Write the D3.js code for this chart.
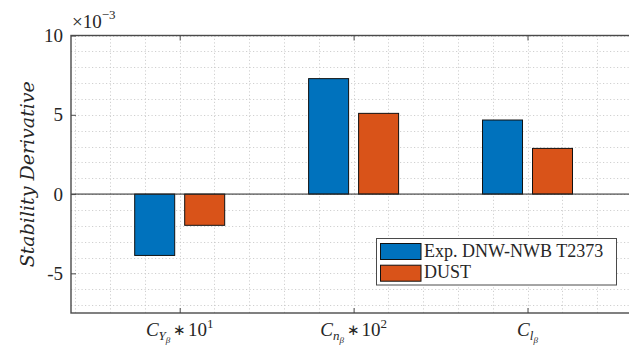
<!DOCTYPE html>
<html>
<head>
<meta charset="utf-8">
<script src="https://cdn.jsdelivr.net/npm/d3@7"></script>
<style>
  html, body { margin: 0; padding: 0; background: #fff; }
  svg { display: block; }
</style>
</head>
<body>
<svg id="chart" width="629" height="345"></svg>
<script>
// Stability derivatives (values in units of 1e-3)
const categories = [1, 2, 3];
const labelSub = ["Y", "n", "l"];
const labelFactor = ["10", "10", ""];
const labelPower = ["1", "2", ""];
const seriesNames = ["Exp. DNW-NWB T2373", "DUST"];
const expValues = [-3.87, 7.28, 4.67];
const dustValues = [-1.97, 5.09, 2.88];
const yTicks = [-5, 0, 5, 10];
const yTickLabels = ["-5", "0", "5", "10"];
const colors = ["#0072BD", "#D95319"];

const serif = "'Liberation Serif', 'Times New Roman', serif";
const serifWide = "'DejaVu Serif', serif";
const textColor = "#262626";

const svg = d3.select("#chart");
const axisColor = "#262626";

const x = d3.scaleLinear().domain([0.375, 3.625]).range([71, 636.2]);
const y = d3.scaleLinear().domain([-7.5, 10]).range([313, 35.5]);

// offsets of the two bars within a group, in category units
const sub = d3.scaleBand().domain([0, 1]).range([-0.2875, 0.2875])
  .paddingInner(0.2).paddingOuter(0.1);

const x0 = x.domain()[0], x1 = x.domain()[1];
const y0 = y.domain()[0], y1 = y.domain()[1];

// grid
const grid = svg.append("g").attr("stroke", "#c4c4c4").attr("stroke-width", 0.8)
  .attr("stroke-dasharray", "1.2,2.3");
const vGrid = d3.range(0.4, 3.61, 0.2);
grid.selectAll("line.v").data(vGrid).join("line")
  .attr("x1", d => Math.round(x(d)) + 0.5).attr("x2", d => Math.round(x(d)) + 0.5)
  .attr("y1", y(y0)).attr("y2", y(y1));
const hGrid = d3.range(-7, 10.01, 1);
grid.selectAll("line.h").data(hGrid).join("line")
  .attr("y1", d => Math.round(y(d)) + 0.5).attr("y2", d => Math.round(y(d)) + 0.5)
  .attr("x1", x(x0)).attr("x2", x(x1));

// bars
const series = [expValues, dustValues];
series.forEach((vals, si) => {
  svg.append("g").selectAll("rect").data(categories).join("rect")
    .attr("x", (c) => x(c + sub(si)))
    .attr("width", x(x0 + sub.bandwidth()) - x(x0))
    .attr("y", (c, i) => y(Math.max(0, vals[i])))
    .attr("height", (c, i) => Math.abs(y(vals[i]) - y(0)))
    .attr("fill", colors[si])
    .attr("stroke", "#111")
    .attr("stroke-width", 1);
});

// zero baseline
svg.append("line")
  .attr("x1", x(x0)).attr("x2", x(x1))
  .attr("y1", y(0)).attr("y2", y(0))
  .attr("stroke", axisColor).attr("stroke-width", 1);

// axes box
svg.append("rect")
  .attr("x", x(x0)).attr("y", y(y1))
  .attr("width", x(x1) - x(x0)).attr("height", y(y0) - y(y1))
  .attr("fill", "none").attr("stroke", "#4a4a4a").attr("stroke-width", 1.4);

// inward ticks (y left, x bottom and top)
const tickLen = 5;
const yAxis = d3.axisRight(y).tickValues(yTicks).tickSize(tickLen).tickFormat("");
svg.append("g").attr("transform", `translate(${x(x0)},0)`).call(yAxis)
  .call(g => g.select(".domain").remove())
  .call(g => g.selectAll("line").attr("stroke", "#4a4a4a"));
const xAxisB = d3.axisTop(x).tickValues(categories).tickSize(tickLen).tickFormat("");
svg.append("g").attr("transform", `translate(0,${y(y0)})`).call(xAxisB)
  .call(g => g.select(".domain").remove())
  .call(g => g.selectAll("line").attr("stroke", "#4a4a4a"));
const xAxisT = d3.axisBottom(x).tickValues(categories).tickSize(tickLen).tickFormat("");
svg.append("g").attr("transform", `translate(0,${y(y1)})`).call(xAxisT)
  .call(g => g.select(".domain").remove())
  .call(g => g.selectAll("line").attr("stroke", "#4a4a4a"));

// y tick labels
svg.append("g").selectAll("text").data(yTicks).join("text")
  .attr("x", x(x0) - 8).attr("y", d => y(d))
  .attr("dy", "0.34em").attr("text-anchor", "end")
  .attr("font-family", serif).attr("fill", textColor)
  .attr("font-size", 19)
  .text((d, i) => yTickLabels[i]);

// exponent
const ex = svg.append("text").attr("x", 72).attr("y", 28).attr("font-size", 19)
  .attr("font-family", serif).attr("fill", textColor);
ex.append("tspan").text("\u00d710");
ex.append("tspan").attr("font-size", 13).attr("dy", -9).text("\u22123");

// y axis label
svg.append("text")
  .attr("transform", `translate(34,${(y(y0) + y(y1)) / 2}) rotate(-90)`)
  .attr("text-anchor", "middle")
  .attr("font-family", serifWide).attr("fill", textColor)
  .attr("font-size", 19).attr("font-style", "italic")
  .text("Stability Derivative");

// x tick labels: C_{X_β} * 10^k
categories.forEach((c, i) => {
  const t = svg.append("text").attr("y", 336).attr("font-size", 19)
    .attr("font-family", serif).attr("fill", textColor)
    .attr("x", x(c)).attr("text-anchor", "middle");
  t.append("tspan").attr("font-style", "italic").text("C");
  t.append("tspan").attr("font-style", "italic").attr("font-size", 13).attr("dy", 4).text(labelSub[i]);
  t.append("tspan").attr("font-style", "italic").attr("font-size", 9).attr("dy", 3).text("\u03b2");
  if (labelFactor[i]) {
    t.append("tspan").attr("font-size", 15).attr("dy", -8).text("\u2009\u2217");
    t.append("tspan").attr("dy", 1).text("\u200a10");
    t.append("tspan").attr("font-size", 13).attr("dy", -8).text(labelPower[i]);
  }
});

// legend
const lg = svg.append("g");
lg.append("rect").attr("x", 376.5).attr("y", 238.5).attr("width", 240).attr("height", 46.5)
  .attr("fill", "#fff").attr("stroke", "#4a4a4a").attr("stroke-width", 1);
seriesNames.forEach((name, i) => {
  const ry = 243.5 + i * 21.7;
  lg.append("rect").attr("x", 380.5).attr("y", ry).attr("width", 40.5).attr("height", 16)
    .attr("fill", colors[i]).attr("stroke", "#111").attr("stroke-width", 1);
  lg.append("text").attr("x", 424).attr("y", ry + 13).attr("font-size", 18)
    .attr("font-family", serif).attr("fill", textColor).text(name);
});
</script>
</body>
</html>
